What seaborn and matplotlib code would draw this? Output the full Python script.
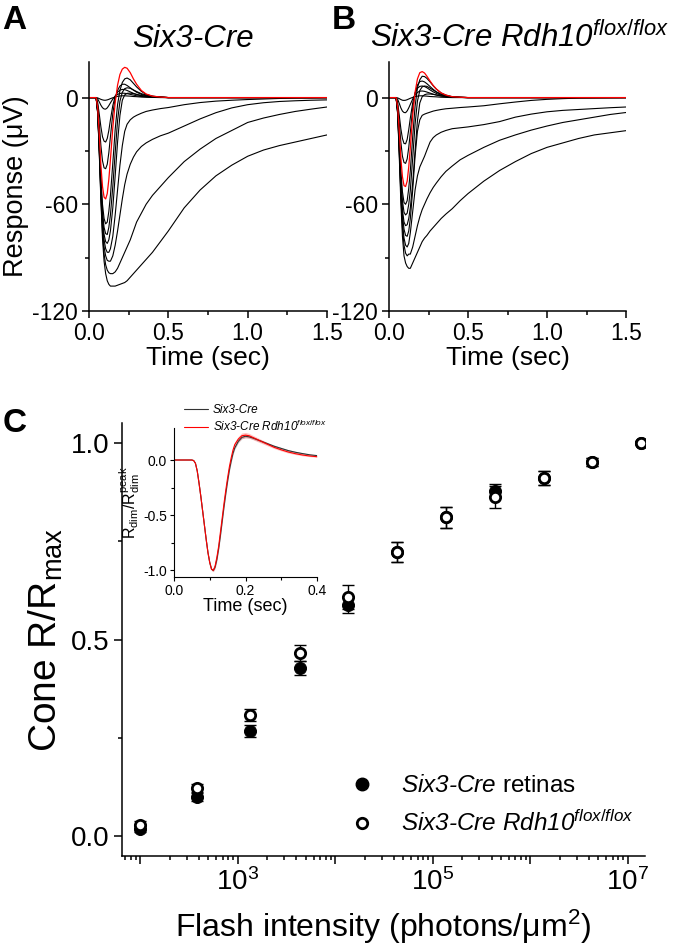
import matplotlib
matplotlib.use("Agg")
import numpy as np
import matplotlib.pyplot as plt
import seaborn as sns
from matplotlib.ticker import MultipleLocator, FixedLocator, LogLocator, FuncFormatter, NullFormatter
from matplotlib.lines import Line2D

sns.set_style("ticks")
plt.rcParams["font.family"] = ["Liberation Sans", "DejaVu Sans"]
plt.rcParams["mathtext.fontset"] = "custom"
plt.rcParams["mathtext.rm"] = "Liberation Sans"
plt.rcParams["mathtext.it"] = "Liberation Sans:italic"
plt.rcParams["mathtext.bf"] = "Liberation Sans:bold"
plt.rcParams["axes.unicode_minus"] = False
for key in ("text.color", "axes.labelcolor", "xtick.color", "ytick.color", "axes.edgecolor"):
    plt.rcParams[key] = "black"
plt.rcParams["axes.linewidth"] = 1.1
plt.rcParams["xtick.direction"] = "out"
plt.rcParams["ytick.direction"] = "out"

# ---- panel A / B : flash response families (time in s, response in uV) ----
TIME = [0.00, 0.045, 0.055, 0.065, 0.075, 0.085, 0.095, 0.105, 0.115, 0.125,
        0.135, 0.15, 0.165, 0.18, 0.195, 0.21, 0.225, 0.24, 0.26, 0.28,
        0.30, 0.33, 0.36, 0.40, 0.45, 0.50, 0.60, 0.70, 0.80, 0.90,
        1.00, 1.10, 1.20, 1.30, 1.40, 1.50]

a1 = [0, 0, -0.2, -0.6, -1.0, -1.3, -1.5, -1.5, -1.3, -1.0, -0.6, -0.1, 0.3, 0.7, 0.9, 1.0, 1.0, 0.9, 0.8, 0.6,
      0.5, 0.3, 0.2, 0.1, 0, 0, 0, 0, 0, 0, 0, 0, 0, 0, 0, 0]
a2 = [0, 0, -0.8, -2.5, -4.3, -5.7, -6.4, -6.5, -5.8, -4.5, -3.0, -0.8, 0.8, 1.8, 2.3, 2.5, 2.4, 2.2, 1.8, 1.4,
      1.0, 0.6, 0.4, 0.2, 0.1, 0, 0, 0, 0, 0, 0, 0, 0, 0, 0, 0]
a3 = [0, 0, -3, -9.5, -16.5, -22, -24.5, -25, -23, -18.5, -12.5, -4.5, 0.8, 3.0, 4.2, 4.6, 4.5, 4.0, 3.2, 2.4,
      1.7, 1.0, 0.6, 0.3, 0.1, 0, 0, 0, 0, 0, 0, 0, 0, 0, 0, 0]
a4 = [0, 0, -4.5, -15, -27, -35.5, -39.5, -40, -37.5, -31, -22, -9, -0.5, 4, 6.5, 7.5, 7.5, 6.8, 5.5, 4.2,
      3.0, 1.8, 1.0, 0.5, 0.2, 0, 0, 0, 0, 0, 0, 0, 0, 0, 0, 0]
a_red = [0, 0, -6, -21, -38, -50, -56, -57, -54, -46, -35, -17, -3, 7, 13, 16, 17, 16.5, 14, 10.5,
         7.5, 4, 2, 0.8, 0.3, 0, 0, 0, 0, 0, 0, 0, 0, 0, 0, 0]
a6 = [0, 0, -7, -25, -45, -60, -68, -71, -70, -64, -55, -37, -18, -4, 4, 8.5, 10.5, 11, 10, 8,
      6, 3.5, 1.8, 0.8, 0.3, 0, 0, 0, 0, 0, 0, 0, 0, 0, 0, 0]
a7 = [0, 0, -7.5, -27, -48, -64, -73, -76.5, -77, -73, -66, -50, -31, -13, -2, 3, 5, 5.5, 5.2, 4.3,
      3.4, 2.2, 1.4, 0.7, 0.3, 0, 0, 0, 0, 0, 0, 0, 0, 0, 0, 0]
a8 = [0, 0, -8, -28, -50, -67, -77, -81, -82, -80, -75, -62, -44, -25, -10, -1.5, 1.5, 2.4, 2.5, 2.2,
      1.8, 1.2, 0.8, 0.4, 0.2, 0, 0, 0, 0, 0, 0, 0, 0, 0, 0, 0]
a9 = [0, 0, -8, -29, -52, -70, -80, -85, -87, -87, -85, -78, -66, -52, -38, -27, -19, -15, -12.5, -11,
      -10, -8.8, -7.8, -7, -6.2, -5.6, -4, -2.8, -2, -1.5, -1.1, -0.8, -0.5, -0.3, -0.2, 0]
a10 = [0, 0, -8.5, -30, -54, -73, -84, -89, -91.5, -92, -92, -89, -83, -75, -66, -57, -49, -43, -37.5, -33.5,
       -30.5, -27.5, -25.5, -23.5, -21.5, -20, -16, -12, -8.5, -5.8, -4, -2.9, -2.2, -1.8, -1.5, -1.3]
a11 = [0, 0, -9, -31, -56, -76, -88, -94, -97, -98.5, -99, -99, -98, -96, -93, -90, -87, -84, -80, -75,
       -70, -65, -60, -55, -50, -45, -36, -29, -23, -18.5, -14, -11.5, -9.5, -7.8, -6.5, -5.3]
a12 = [0, 0, -9, -32, -58, -79, -92, -99, -103, -105, -106, -106, -106, -105.5, -105, -104.5, -104, -103, -101, -99,
       -97, -94, -91, -87, -81, -75, -62, -52, -44, -38, -33, -29.5, -27, -25, -23, -21]

b1 = [0, 0, -0.2, -0.6, -1.1, -1.5, -1.6, -1.5, -1.2, -0.8, -0.4, 0.1, 0.5, 0.8, 1.0, 1.0, 0.9, 0.8, 0.6, 0.5,
      0.4, 0.2, 0.1, 0, 0, 0, 0, 0, 0, 0, 0, 0, 0, 0, 0, 0]
b2 = [0, 0, -1, -3.3, -5.8, -7.6, -8.4, -8.5, -7.5, -5.8, -3.8, -0.8, 1.5, 2.9, 3.6, 3.7, 3.5, 3.1, 2.5, 1.9,
      1.4, 0.8, 0.5, 0.2, 0.1, 0, 0, 0, 0, 0, 0, 0, 0, 0, 0, 0]
b3 = [0, 0, -3, -10, -17.5, -23, -25.8, -26, -23.5, -18, -11.5, -3, 2.5, 5.2, 6.3, 6.5, 6.2, 5.5, 4.3, 3.2,
      2.3, 1.3, 0.7, 0.3, 0.1, 0, 0, 0, 0, 0, 0, 0, 0, 0, 0, 0]
b4 = [0, 0, -4.5, -14, -25, -33, -36.5, -37, -34.5, -28, -19.5, -6, 2.5, 7, 9, 9.3, 8.8, 7.8, 6.2, 4.6,
      3.2, 1.8, 1.0, 0.4, 0.1, 0, 0, 0, 0, 0, 0, 0, 0, 0, 0, 0]
b_red = [0, 0, -5.5, -19, -34, -44.5, -49.5, -50, -47, -39, -28, -10, 3, 10.5, 14, 14.6, 13.8, 12, 9.3, 6.8,
         4.8, 2.6, 1.4, 0.5, 0.2, 0, 0, 0, 0, 0, 0, 0, 0, 0, 0, 0]
b6 = [0, 0, -6.5, -23, -41, -53, -59, -60, -58, -51, -41, -22, -5, 5.5, 10, 12, 11.8, 10.8, 8.8, 6.6,
      4.7, 2.6, 1.4, 0.5, 0.2, 0, 0, 0, 0, 0, 0, 0, 0, 0, 0, 0]
b7 = [0, 0, -7, -25, -45, -58, -64.5, -66, -65, -60, -52, -34, -15, -2, 4, 6, 6.5, 6.3, 5.3, 4.2,
      3.1, 1.8, 1.0, 0.4, 0.1, 0, 0, 0, 0, 0, 0, 0, 0, 0, 0, 0]
b8 = [0, 0, -7.5, -27, -48, -63, -70, -72, -71.5, -68, -62, -48, -30, -13, -3, 0.5, 1.6, 2.0, 2.0, 1.8,
      1.5, 1.0, 0.6, 0.3, 0.1, 0, 0, 0, 0, 0, 0, 0, 0, 0, 0, 0]
b9 = [0, 0, -8, -28, -50, -66, -74, -77.5, -78, -75, -68, -52, -33, -19, -12.5, -10, -9.3, -8.8, -8.2, -7.6,
      -7.2, -6.7, -6.3, -6, -5.6, -5.3, -4.6, -3.5, -2.5, -1.6, -1, -0.6, -0.3, -0.2, -0.1, 0]
b10 = [0, 0, -8.5, -30, -53, -70, -79, -83, -84, -82, -76, -64, -52, -44, -39, -36, -33, -29.5, -25, -22.5,
       -21, -19.5, -18.5, -17.5, -17, -16.5, -15.2, -13.5, -11, -9.3, -8, -7.2, -6.7, -6.2, -5.7, -5.3]
b11 = [0, 0, -9, -31, -55, -73, -83, -87.5, -89, -88, -88, -84, -78, -72, -67, -63, -60, -57, -53.5, -50.5,
       -48, -44.5, -41.5, -38.5, -35, -32.5, -28, -24, -21, -18.3, -16, -14, -12.5, -11, -9.5, -8.4]
b12 = [0, 0, -9.5, -33, -59, -78, -89, -93, -95, -96, -96, -93, -90, -87, -84, -81, -79, -77.5, -75, -73,
       -71, -68, -65.5, -62.5, -58, -54, -47, -41, -36, -31.5, -28, -25.5, -23, -21, -19.8, -18.6]

A_BLACK = [a1, a2, a3, a4, a6, a7, a8, a9, a10, a11, a12]
B_BLACK = [b1, b2, b3, b4, b6, b7, b8, b9, b10, b11, b12]

# ---- inset : normalised dim flash responses ----
T_IN = [0, 0.05, 0.055, 0.06, 0.065, 0.07, 0.075, 0.08, 0.085, 0.09,
        0.095, 0.10, 0.105, 0.11, 0.115, 0.12, 0.125, 0.13, 0.135, 0.14,
        0.145, 0.15, 0.155, 0.16, 0.165, 0.17, 0.18, 0.19, 0.20, 0.21,
        0.22, 0.24, 0.26, 0.28, 0.30, 0.32, 0.34, 0.36, 0.38, 0.40]
dim_ctrl = [0, 0, -0.005, -0.03, -0.10, -0.21, -0.33, -0.46, -0.59, -0.72,
            -0.84, -0.93, -0.99, -1.0, -0.97, -0.90, -0.80, -0.68, -0.55, -0.42,
            -0.30, -0.19, -0.09, -0.01, 0.06, 0.11, 0.17, 0.205, 0.215, 0.21,
            0.20, 0.175, 0.15, 0.125, 0.105, 0.085, 0.07, 0.058, 0.047, 0.04]
dim_ko = [0, 0, -0.005, -0.03, -0.10, -0.21, -0.33, -0.46, -0.59, -0.72,
          -0.84, -0.93, -0.99, -1.0, -0.96, -0.88, -0.78, -0.65, -0.52, -0.39,
          -0.27, -0.16, -0.06, 0.02, 0.09, 0.14, 0.19, 0.22, 0.225, 0.22,
          0.205, 0.175, 0.145, 0.115, 0.092, 0.072, 0.057, 0.045, 0.036, 0.03]
sem_ctrl = [0, 0, 0, 0.002, 0.005, 0.008, 0.01, 0.01, 0.01, 0.01,
            0.01, 0.01, 0.01, 0.01, 0.012, 0.015, 0.015, 0.015, 0.015, 0.015,
            0.015, 0.012, 0.012, 0.012, 0.012, 0.012, 0.012, 0.012, 0.012, 0.012,
            0.012, 0.01, 0.01, 0.01, 0.008, 0.008, 0.008, 0.006, 0.006, 0.006]
sem_ko = [0, 0, 0, 0.002, 0.006, 0.01, 0.012, 0.012, 0.012, 0.012,
          0.012, 0.012, 0.012, 0.012, 0.015, 0.02, 0.02, 0.02, 0.02, 0.02,
          0.02, 0.02, 0.02, 0.02, 0.022, 0.025, 0.025, 0.025, 0.025, 0.022,
          0.02, 0.018, 0.015, 0.012, 0.01, 0.01, 0.008, 0.008, 0.006, 0.006]

# ---- panel C : intensity-response ----
INTENSITY = [100, 380, 1350, 4300, 13500, 43000, 135000, 430000, 1370000, 4300000, 13700000]
CTRL_R = [0.018, 0.10, 0.267, 0.427, 0.588, 0.723, 0.81, 0.878, 0.91, 0.952, 1.0]
CTRL_ERR = [0.008, 0.01, 0.015, 0.018, 0.02, 0.025, 0.027, 0.017, 0.018, 0.01, 0.004]
KO_R = [0.03, 0.122, 0.308, 0.465, 0.608, 0.723, 0.81, 0.862, 0.91, 0.952, 1.0]
KO_ERR = [0.008, 0.01, 0.015, 0.02, 0.03, 0.025, 0.027, 0.027, 0.018, 0.01, 0.004]

W, H = 675, 952


def box(l, t, r, b):
    return [l / W, 1 - b / H, (r - l) / W, (b - t) / H]


fig = plt.figure(figsize=(6.75, 9.52), dpi=100)


def trace_panel(rect, black, red, title, title_x, ylabel):
    ax = fig.add_axes(rect)
    for y in black:
        sns.lineplot(x=TIME, y=y, ax=ax, color="black", lw=0.8, estimator=None)
    sns.lineplot(x=TIME, y=red, ax=ax, color="red", lw=0.9, estimator=None)
    ax.set_xlim(0, 1.5)
    ax.set_ylim(-120, 20)
    ax.xaxis.set_major_locator(MultipleLocator(0.5))
    ax.xaxis.set_minor_locator(MultipleLocator(0.25))
    ax.xaxis.set_major_formatter(FuncFormatter(lambda v, _: f"{v:.1f}"))
    ax.yaxis.set_major_locator(FixedLocator([-120, -60, 0]))
    ax.yaxis.set_minor_locator(FixedLocator([-90, -30]))
    ax.tick_params(which="major", length=5, width=1.1, labelsize=16.5, pad=3)
    ax.tick_params(which="minor", length=3, width=1.1)
    sns.despine(ax=ax)
    ax.set_xlabel("Time (sec)", fontsize=19, labelpad=1)
    ax.set_ylabel(ylabel, fontsize=19.5, labelpad=2)
    ax.set_title(title, fontstyle="italic", fontsize=22.5, pad=11, x=title_x)
    return ax


axA = trace_panel(box(89, 62, 327, 311), A_BLACK, a_red, "Six3-Cre", 0.435, "Response (\u03bcV)")
axB = trace_panel(box(389, 62, 626, 311), B_BLACK, b_red, "Six3-Cre Rdh10$^{flox/flox}$", 0.55, "")

# panel C
axC = fig.add_axes(box(122, 423, 645, 856))
axC.set_xscale("log")
axC.errorbar(INTENSITY, CTRL_R, yerr=CTRL_ERR, fmt="none", ecolor="black", elinewidth=1, capsize=4, capthick=1)
axC.errorbar(INTENSITY, KO_R, yerr=KO_ERR, fmt="none", ecolor="black", elinewidth=1, capsize=4, capthick=1)
sns.scatterplot(x=INTENSITY, y=CTRL_R, ax=axC, color="black", edgecolor="black", s=75, marker="o", zorder=3)
sns.scatterplot(x=INTENSITY, y=KO_R, ax=axC, color="white", edgecolor="black", linewidth=2, s=55, marker="o", zorder=4)
axC.set_xlim(65, 1.5e7)
axC.set_ylim(-0.05, 1.05)
axC.xaxis.set_major_locator(LogLocator(base=10, numticks=20))
axC.xaxis.set_minor_locator(LogLocator(base=10, subs=(2, 3, 4, 5, 6, 7, 8, 9), numticks=20))
axC.xaxis.set_minor_formatter(NullFormatter())


def decade_label(v, _):
    e = int(round(np.log10(v)))
    return f"$10^{{{e}}}$" if e % 2 == 1 else ""


axC.xaxis.set_major_formatter(FuncFormatter(decade_label))
axC.yaxis.set_major_locator(FixedLocator([0, 0.5, 1.0]))
axC.yaxis.set_minor_locator(FixedLocator([0.25, 0.75]))
axC.yaxis.set_major_formatter(FuncFormatter(lambda v, _: f"{v:.1f}"))
axC.tick_params(which="major", length=6, width=1.1, labelsize=20, pad=3)
axC.tick_params(which="minor", length=3, width=1.1)
sns.despine(ax=axC)
axC.set_xlabel("Flash intensity (photons/\u03bcm$^2$)", fontsize=23, labelpad=8)
axC.set_ylabel("Cone R/R$_{\\mathrm{max}}$", fontsize=28, labelpad=4)

handles = [Line2D([], [], ls="none", marker="o", color="black", markersize=9),
           Line2D([], [], ls="none", marker="o", mfc="white", mec="black", mew=2, markersize=7.5)]
axC.legend(handles, ["Six3-Cre $\\mathrm{retinas}$", "Six3-Cre Rdh10$^{flox/flox}$"],
           loc="lower left", bbox_to_anchor=(0.39, -0.005), frameon=False,
           prop=dict(size=17.5, style="italic"), handletextpad=1.0, labelspacing=0.55,
           handlelength=1.2)

# inset
axI = fig.add_axes(box(174, 428, 317, 577))
ctrl_lo = [m - s for m, s in zip(dim_ctrl, sem_ctrl)]
ctrl_hi = [m + s for m, s in zip(dim_ctrl, sem_ctrl)]
ko_lo = [m - s for m, s in zip(dim_ko, sem_ko)]
ko_hi = [m + s for m, s in zip(dim_ko, sem_ko)]
axI.fill_between(T_IN, ctrl_lo, ctrl_hi, color="gray", alpha=0.45, lw=0)
axI.fill_between(T_IN, ko_lo, ko_hi, color="#ff8080", alpha=0.45, lw=0)
sns.lineplot(x=T_IN, y=dim_ctrl, ax=axI, color="#333333", lw=0.8, estimator=None)
sns.lineplot(x=T_IN, y=dim_ko, ax=axI, color="red", lw=0.8, estimator=None)
axI.set_xlim(0, 0.4)
axI.set_ylim(-1.06, 0.29)
axI.xaxis.set_major_locator(MultipleLocator(0.2))
axI.xaxis.set_minor_locator(MultipleLocator(0.1))
axI.xaxis.set_major_formatter(FuncFormatter(lambda v, _: f"{v:.1f}"))
axI.yaxis.set_major_locator(FixedLocator([-1.0, -0.5, 0.0]))
axI.yaxis.set_minor_locator(FixedLocator([-0.75, -0.25]))
axI.yaxis.set_major_formatter(FuncFormatter(lambda v, _: f"{v:.1f}"))
axI.tick_params(which="major", length=3, width=0.8, labelsize=10, pad=2)
axI.tick_params(which="minor", length=2, width=0.8)
for s in ("left", "bottom"):
    axI.spines[s].set_linewidth(0.8)
sns.despine(ax=axI)
axI.set_xlabel("Time (sec)", fontsize=13, labelpad=0)
axI.set_ylabel("R$_{\\mathrm{dim}}$/R$_{\\mathrm{dim}}^{\\mathrm{peak}}$", fontsize=11.5, labelpad=1)
axI.legend([Line2D([], [], color="#333333", lw=0.8), Line2D([], [], color="red", lw=0.8)],
           ["Six3-Cre", "Six3-Cre Rdh10$^{flox/flox}$"], loc="lower left",
           bbox_to_anchor=(0.04, 0.93), frameon=False, prop=dict(size=8.5, style="italic"),
           handlelength=2.0, handletextpad=0.4, labelspacing=0.2, borderaxespad=0)

# panel letters
fig.text(2 / W, 1 - 5 / H, "A", fontsize=24, fontweight="bold", va="top", ha="left")
fig.text(332 / W, 1 - 5 / H, "B", fontsize=24, fontweight="bold", va="top", ha="left")
fig.text(3 / W, 1 - 408 / H, "C", fontsize=24, fontweight="bold", va="top", ha="left")

fig.savefig("out.png", dpi=100)
